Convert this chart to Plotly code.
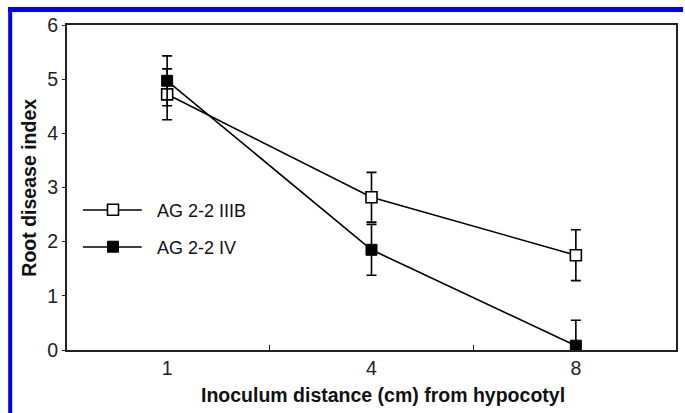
import plotly.graph_objects as go

categories = ["1", "4", "8"]
iiib_values = [4.72, 2.82, 1.75]
iiib_err = [0.47, 0.46, 0.47]
iv_values = [4.97, 1.85, 0.08]
iv_err_plus = [0.46, 0.47, 0.47]
iv_err_minus = [0.46, 0.47, 0.08]
y_ticks = [0, 1, 2, 3, 4, 5, 6]
series_names = ["AG 2-2 IIIB", "AG 2-2 IV"]

W, H = 685, 413
ML, MR, MT, MB = 67, 7, 25, 63
PW, PH = W - ML - MR, H - MT - MB

def px_x(x):
    return (x - ML) / PW

def px_y(y):
    return (H - MB - y) / PH

FONT = "Liberation Sans, Arial"
open_marker = dict(symbol="square", size=11, color="white", line=dict(color="black", width=1.6))
filled_marker = dict(symbol="square", size=11, color="black", line=dict(color="black", width=1))

fig = go.Figure()
fig.add_trace(go.Scatter(
    x=categories, y=iiib_values, name=series_names[0], mode="lines+markers",
    line=dict(color="black", width=1.6), marker=open_marker,
    error_y=dict(type="data", array=iiib_err, color="black", thickness=1.6, width=5),
    cliponaxis=False, showlegend=False,
))
fig.add_trace(go.Scatter(
    x=categories, y=iv_values, name=series_names[1], mode="lines+markers",
    line=dict(color="black", width=1.6), marker=filled_marker,
    error_y=dict(type="data", array=iv_err_plus, arrayminus=iv_err_minus, symmetric=False,
                 color="black", thickness=1.6, width=5),
    cliponaxis=False, showlegend=False,
))
# legend entries (markers only; sample lines drawn as shapes below)
fig.add_trace(go.Scatter(x=[None], y=[None], name=series_names[0], mode="markers",
                         marker=open_marker, legend="legend"))
fig.add_trace(go.Scatter(x=[None], y=[None], name=series_names[1], mode="markers",
                         marker=filled_marker, legend="legend2"))

blue = "#0000ee"
shapes = [
    dict(type="line", xref="paper", yref="paper", x0=px_x(10), x1=px_x(10), y0=px_y(7), y1=px_y(413),
         line=dict(color=blue, width=4), layer="above"),
    dict(type="line", xref="paper", yref="paper", x0=px_x(8), x1=px_x(685), y0=px_y(9.5), y1=px_y(9.5),
         line=dict(color=blue, width=5), layer="above"),
    dict(type="line", xref="paper", yref="paper", x0=px_x(83), x1=px_x(142), y0=px_y(210), y1=px_y(210),
         line=dict(color="black", width=1.6), layer="below"),
    dict(type="line", xref="paper", yref="paper", x0=px_x(83), x1=px_x(142), y0=px_y(247), y1=px_y(247),
         line=dict(color="black", width=1.6), layer="below"),
]

annotations = [
    dict(text="<b>Inoculum distance (cm) from hypocotyl</b>", xref="paper", yref="paper",
         x=px_x(384), y=px_y(395), xanchor="center", yanchor="middle", showarrow=False,
         font=dict(family=FONT, size=19.5, color="#111")),
    dict(text="<b>Root disease index</b>", xref="paper", yref="paper", textangle=-90,
         x=px_x(28), y=px_y(187.5), xanchor="center", yanchor="middle", showarrow=False,
         font=dict(family=FONT, size=19.5, color="#111")),
]

leg_common = dict(bgcolor="rgba(0,0,0,0)", font=dict(family=FONT, size=18, color="#111"),
                  xanchor="left", yanchor="middle", itemwidth=78)

fig.update_layout(
    width=W, height=H,
    margin=dict(l=ML, r=MR, t=MT, b=MB),
    paper_bgcolor="white", plot_bgcolor="white",
    font=dict(family=FONT, color="black"),
    showlegend=True,
    legend=dict(x=px_x(69), y=px_y(210), **leg_common),
    legend2=dict(x=px_x(69), y=px_y(247), **leg_common),
    shapes=shapes,
    annotations=annotations,
    xaxis=dict(
        type="category", categoryorder="array", categoryarray=categories,
        range=[-0.49, 2.49], showgrid=False, zeroline=False,
        showline=True, linecolor="#222", linewidth=2, mirror=True,
        ticks="inside", tickson="boundaries", ticklen=5, tickcolor="#222",
        tickfont=dict(size=19.5, color="#222"),
    ),
    yaxis=dict(
        range=[0, 6], tickvals=y_ticks, showgrid=False, zeroline=False,
        showline=True, linecolor="#222", linewidth=2, mirror=True,
        ticks="outside", ticklen=3, tickcolor="#222",
        tickfont=dict(size=19.5, color="#222"),
    ),
)

fig.write_html("out.html")
